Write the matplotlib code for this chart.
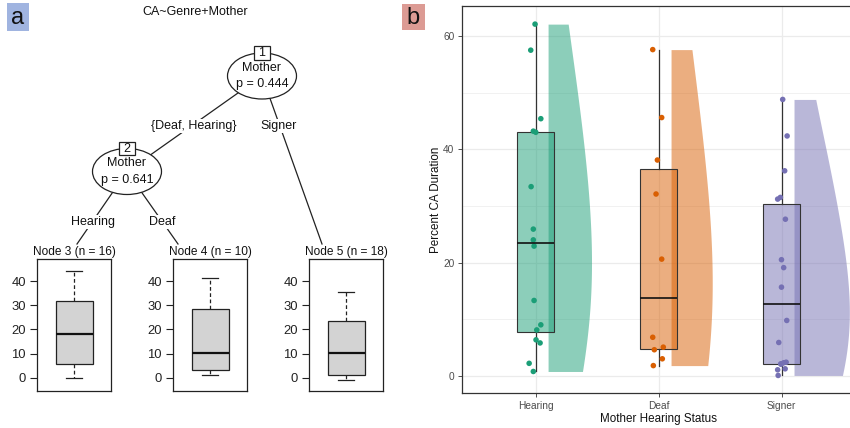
import numpy as np
import matplotlib
matplotlib.use("Agg")
import matplotlib.pyplot as plt
from matplotlib.patches import Ellipse, Rectangle

plt.rcParams['font.family'] = ['Liberation Sans', 'DejaVu Sans']

# ---------------- data ----------------
groups = ['Hearing', 'Deaf', 'Signer']
colors = ['#1B9E77', '#D95F02', '#7570B3']

hearing = [62.1, 57.5, 45.4, 43.2, 43.0, 33.4, 25.9, 24.0, 22.9, 13.3, 9.0, 8.1, 6.35, 5.8, 2.2, 0.76]
deaf = [57.6, 45.6, 38.1, 32.1, 20.6, 6.8, 5.06, 4.6, 3.0, 1.8]
signer = [48.8, 42.35, 36.2, 31.5, 31.2, 27.65, 20.5, 19.1, 15.65, 9.77, 5.88,
          2.4, 2.3, 2.1, 2.05, 1.23, 1.06, 0.06]

# horizontal jitter (in category units)
hearing_jit = [-0.006, -0.041, 0.041, -0.02, 0.0, -0.038, -0.02, -0.02, -0.014, -0.014,
               0.041, 0.008, 0.002, 0.035, -0.054, -0.02]
deaf_jit = [-0.049, 0.024, -0.011, -0.022, 0.024, -0.049, 0.037, -0.036, 0.029, -0.044]
signer_jit = [0.008, 0.044, 0.024, -0.011, -0.033, 0.03, -0.002, 0.016, -0.002, 0.041,
              -0.024, 0.036, 0.016, -0.008, -0.005, 0.028, -0.033, -0.029]

# tree (panel a)
tree_title = 'CA~Genre+Mother'
node_titles = ['Node 3 (n = 16)', 'Node 4 (n = 10)', 'Node 5 (n = 18)']
node_whislo = [0.0, 1.0, -1.1]
node_q1 = [5.7, 3.3, 1.0]
node_med = [18.1, 10.3, 10.1]
node_q3 = [31.7, 28.3, 23.3]
node_whishi = [44.3, 41.4, 35.3]
node_yticks = [0, 10, 20, 30, 40]
inner_nodes = [('1', 'Mother', 'p = 0.444'), ('2', 'Mother', 'p = 0.641')]
edge_labels = ['{Deaf, Hearing}', 'Signer', 'Hearing', 'Deaf']

b_yticks = [0, 20, 40, 60]
b_yminor = [10, 30, 50]

W, H = 850, 428
fig = plt.figure(figsize=(W / 100, H / 100), dpi=100)

# ---------------- panel a : tree drawn in pixel coordinates ----------------
ov = fig.add_axes([0, 0, 1, 1])
ov.set_xlim(0, W)
ov.set_ylim(H, 0)
ov.axis('off')
ov.patch.set_visible(False)

tc = '#111111'
fs = 9

# panel tags
ov.add_patch(Rectangle((7, 3), 22, 28, facecolor='#A0B4E0', edgecolor='none'))
ov.text(18, 17.5, 'a', fontsize=17, ha='center', va='center', color='#111111')
ov.add_patch(Rectangle((402, 4), 23, 26, facecolor='#DC9B94', edgecolor='none'))
ov.text(413.5, 17.5, 'b', fontsize=17, ha='center', va='center', color='#111111')

ov.text(195, 12, tree_title, fontsize=fs, ha='center', va='center', color=tc)

lkw = dict(color='#222222', lw=0.9, zorder=1)
# edges
ov.plot([262, 127], [76, 171.5], **lkw)
ov.plot([262, 322], [76, 244], **lkw)
ov.plot([127, 77], [171.5, 244], **lkw)
ov.plot([127, 178], [171.5, 244], **lkw)

bb = dict(facecolor='white', edgecolor='none', pad=1.0)
ov.text(194, 126, edge_labels[0], fontsize=fs, ha='center', va='center', color=tc, bbox=bb, zorder=3)
ov.text(279, 126, edge_labels[1], fontsize=fs, ha='center', va='center', color=tc, bbox=bb, zorder=3)
ov.text(93, 222, edge_labels[2], fontsize=fs, ha='center', va='center', color=tc, bbox=bb, zorder=3)
ov.text(162, 222, edge_labels[3], fontsize=fs, ha='center', va='center', color=tc, bbox=bb, zorder=3)

# inner nodes
for (num, var, p), (cx, cy) in zip(inner_nodes, [(262, 76), (127, 171.5)]):
    ov.add_patch(Ellipse((cx, cy), 69, 46, facecolor='white', edgecolor='#222222', lw=0.9, zorder=4))
    ov.add_patch(Rectangle((cx - 8, cy - 30), 16, 13.5, facecolor='white', edgecolor='#222222', lw=0.9, zorder=5))
    ov.text(cx, cy - 23, num, fontsize=fs, ha='center', va='center', color=tc, zorder=6)
    ov.text(cx, cy - 8, var, fontsize=fs, ha='center', va='center', color=tc, zorder=6)
    ov.text(cx, cy + 8, p, fontsize=fs, ha='center', va='center', color=tc, zorder=6)

# terminal nodes
frames_x = [37, 173, 309]
title_x = [74.7, 210, 346]
for i in range(3):
    ov.text(title_x[i], 252.5, node_titles[i], fontsize=8.6, ha='center', va='center',
            color=tc, bbox=dict(facecolor='white', edgecolor='none', pad=0.5), zorder=3)
    ax = fig.add_axes([frames_x[i] / W, (H - 391) / H, 74 / W, 132 / H])
    st = dict(med=node_med[i], q1=node_q1[i], q3=node_q3[i],
              whislo=node_whislo[i], whishi=node_whishi[i], fliers=[])
    ax.bxp([st], positions=[1], widths=0.5, patch_artist=True, showfliers=False,
           boxprops=dict(facecolor='#D3D3D3', edgecolor='#222222', lw=0.9),
           whiskerprops=dict(color='#222222', lw=0.9, linestyle=(0, (3, 2))),
           capprops=dict(color='#222222', lw=0.9),
           medianprops=dict(color='#111111', lw=1.6),
           capwidths=[0.22])
    ax.set_xlim(0.5, 1.5)
    ax.set_ylim(-5.5, 49.1)
    ax.set_xticks([])
    ax.set_yticks(node_yticks)
    ax.tick_params(axis='y', direction='out', length=5, width=0.8, labelsize=9.4,
                   pad=3, colors='#222222')
    for s in ax.spines.values():
        s.set_color('#222222')
        s.set_linewidth(0.9)

# ---------------- panel b : raincloud ----------------
axb = fig.add_axes([462 / W, 35 / H, 393.5 / W, 387 / H])
axb.set_xlim(0.4, 3.6)
axb.set_ylim(-3.04, 65.3)

for y in b_yticks:
    axb.axhline(y, color='#EBEBEB', lw=0.9, zorder=0)
for y in b_yminor:
    axb.axhline(y, color='#EBEBEB', lw=0.5, zorder=0)
for x in range(1, 4):
    axb.axvline(x, color='#EBEBEB', lw=0.9, zorder=0)

data = [hearing, deaf, signer]
jits = [hearing_jit, deaf_jit, signer_jit]


def bw_nrd0(x):
    x = np.asarray(x)
    sd = np.std(x, ddof=1)
    iqr = np.subtract(*np.percentile(x, [75, 25]))
    lo = min(sd, iqr / 1.34)
    return 0.9 * lo * len(x) ** (-0.2)


adjust = 2.0
dens = []
for d in data:
    d = np.asarray(d)
    bw = bw_nrd0(d) * adjust
    yy = np.linspace(d.min(), d.max(), 512)
    k = np.exp(-0.5 * ((yy[:, None] - d[None, :]) / bw) ** 2).sum(axis=1) / (len(d) * bw * np.sqrt(2 * np.pi))
    dens.append((yy, k))
gmax = max(k.max() for _, k in dens)

for i, ((yy, k), c) in enumerate(zip(dens, colors)):
    x0 = i + 1 + 0.1
    axb.fill_betweenx(yy, x0, x0 + 0.45 * k / gmax, color=c, alpha=0.5, lw=0, zorder=1)

bp = axb.boxplot(data, positions=[1, 2, 3], widths=0.3, patch_artist=True,
                 showfliers=False, showcaps=False, whis=1.5,
                 boxprops=dict(edgecolor='#333333', lw=0.8),
                 whiskerprops=dict(color='#333333', lw=0.9),
                 medianprops=dict(color='#111111', lw=1.2), zorder=2)
for patch, c in zip(bp['boxes'], colors):
    r, g, b_ = matplotlib.colors.to_rgb(c)
    patch.set_facecolor((r, g, b_, 0.5))
for m in bp['medians']:
    m.set_zorder(4)

for i, (d, j, c) in enumerate(zip(data, jits, colors)):
    axb.scatter(np.array(j) + i + 1, d, s=16, color=c, edgecolors='none', zorder=3)

axb.set_xticks([1, 2, 3])
axb.set_xticklabels(groups)
axb.set_yticks(b_yticks)
axb.tick_params(axis='both', direction='out', length=3, width=0.6, colors='#333333',
                labelsize=7.3, labelcolor='#4D4D4D', pad=2.5)
for s in axb.spines.values():
    s.set_color('#333333')
    s.set_linewidth(0.9)

fig.text(658 / W, 1 - 422 / H, 'Mother Hearing Status', fontsize=8.4, ha='center',
         va='baseline', color='#111111')
fig.text(436 / W, 1 - 200 / H, 'Percent CA Duration', fontsize=8.4, ha='center',
         va='center', rotation=90, color='#111111')

fig.savefig('out.png', dpi=100)
